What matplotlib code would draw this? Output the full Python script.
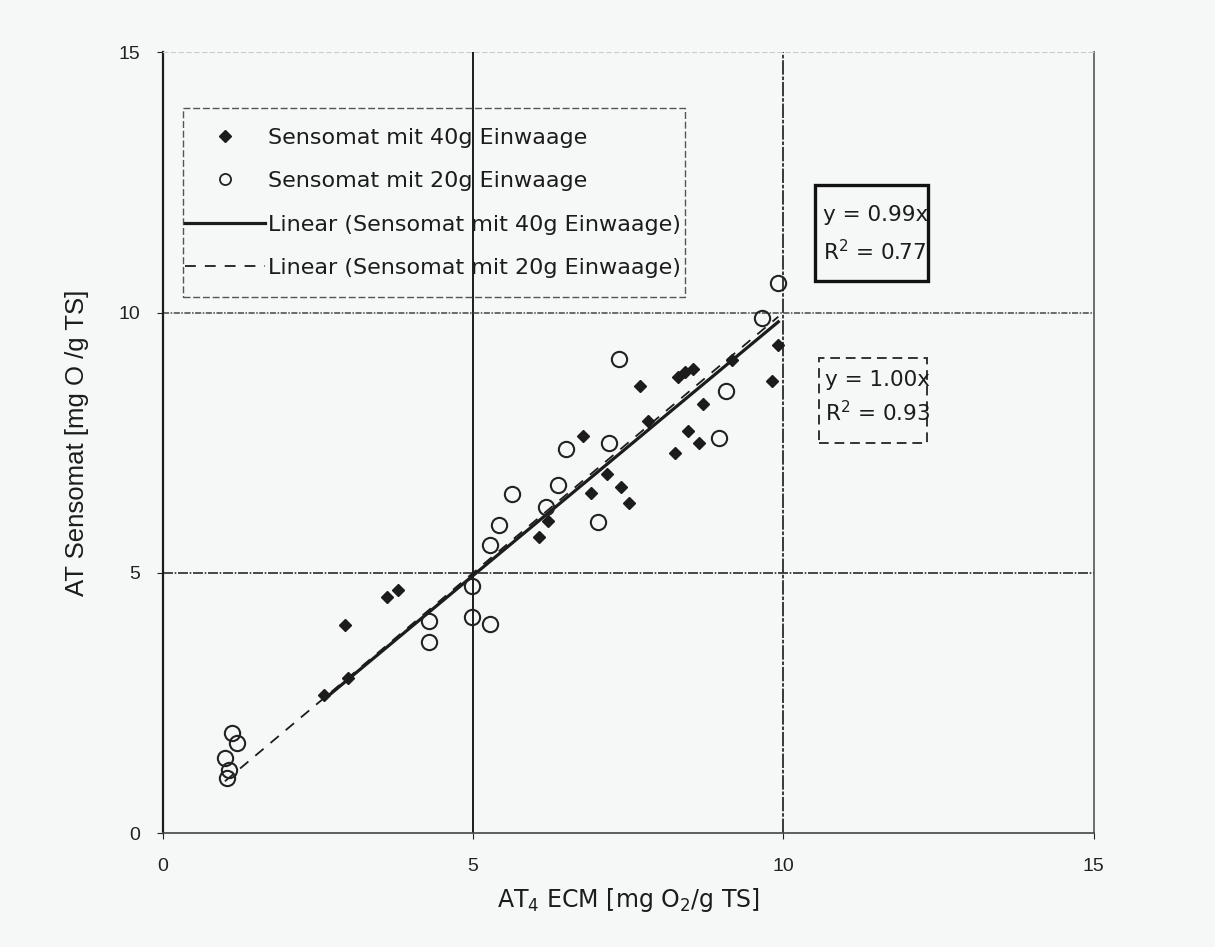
import matplotlib.pyplot as plt
from matplotlib.lines import Line2D
from matplotlib.patches import Rectangle

# Sensomat mit 40g Einwaage (filled diamonds)
x40 = [2.6, 2.99, 2.94, 3.61, 3.79, 6.07, 6.21, 6.77, 6.9, 7.16, 7.38, 7.51,
       7.69, 7.82, 8.25, 8.3, 8.41, 8.47, 8.54, 8.64, 8.7, 9.18, 9.82, 9.92]
y40 = [2.65, 2.98, 4.0, 4.54, 4.67, 5.69, 6.0, 7.62, 6.54, 6.9, 6.65, 6.35,
       8.58, 7.92, 7.31, 8.77, 8.85, 7.73, 8.92, 7.5, 8.25, 9.08, 8.69, 9.38]

# Sensomat mit 20g Einwaage (open circles)
x20 = [1.0, 1.04, 1.07, 1.12, 1.2, 4.29, 4.29, 4.99, 4.99, 5.28, 5.28, 5.42,
       5.62, 6.18, 6.37, 6.5, 7.01, 7.19, 7.35, 8.97, 9.07, 9.65, 9.92]
y20 = [1.44, 1.06, 1.21, 1.92, 1.73, 4.08, 3.67, 4.75, 4.15, 4.02, 5.54, 5.92,
       6.52, 6.27, 6.69, 7.37, 5.98, 7.5, 9.1, 7.6, 8.5, 9.9, 10.56]

slope40, r2_40 = 0.99, 0.77
slope20, r2_20 = 1.00, 0.93

plt.rcParams['font.family'] = ['Liberation Sans', 'DejaVu Sans']
wide = 'DejaVu Sans'
bg = '#f6f8f7'
ink = '#1c1c1c'
fig = plt.figure(figsize=(12.15, 9.47), dpi=100, facecolor=bg)
ax = fig.add_axes([0.134, 0.120, 0.766, 0.825], facecolor=bg)

# grid lines
ax.axvline(5, color=ink, lw=1.4, zorder=1)
ax.axvline(10, color='#2a2a2a', lw=1.3, ls=(0, (8, 1, 2, 1)), zorder=1)
ax.axhline(5, color='#2a2a2a', lw=1.2, ls=(0, (6, 1, 1, 1)), zorder=1)
ax.axhline(10, color='#444444', lw=1.1, ls=(0, (4, 1, 1, 1)), zorder=1)

# trend lines
xa = [min(x20), max(x20)]
ax.plot(xa, [slope20 * v for v in xa], color=ink, lw=1.3, ls=(0, (6, 5)), zorder=2)
xb = [min(x40), max(x40)]
ax.plot(xb, [slope40 * v for v in xb], color=ink, lw=2.3, zorder=3)

ax.plot(x40, y40, 'D', color=ink, ms=6, ls='none', zorder=4)
ax.plot(x20, y20, 'o', mfc='none', mec='#222222', mew=1.5, ms=11, ls='none', zorder=4)

ax.set_xlim(0, 15)
ax.set_ylim(0, 15)
ax.set_xticks([0, 5, 10, 15])
ax.set_yticks([0, 5, 10, 15])
ax.tick_params(labelsize=14, length=4, colors='#222222')
ax.tick_params(axis='x', pad=14)
ax.tick_params(axis='y', pad=12)

ax.spines['left'].set_color(ink)
ax.spines['left'].set_linewidth(1.6)
ax.spines['bottom'].set_color('#444444')
ax.spines['bottom'].set_linewidth(1.2)
ax.spines['bottom'].set_linestyle((0, (8, 1, 2, 1)))
ax.spines['right'].set_color('#555555')
ax.spines['right'].set_linewidth(1.2)
ax.spines['right'].set_linestyle((0, (1, 1)))
ax.spines['top'].set_color('#cccccc')
ax.spines['top'].set_linewidth(0.8)
ax.spines['top'].set_linestyle((0, (4, 3)))

ax.set_xlabel('AT$_4$ ECM [mg O$_2$/g TS]', fontsize=17, labelpad=8, color=ink, family=wide)
ax.set_ylabel('AT Sensomat [mg O /g TS]', fontsize=18.5, color=ink)
ax.yaxis.set_label_coords(-0.079, 0.5)

handles = [
    Line2D([], [], marker='D', color=ink, ms=6, ls='none'),
    Line2D([], [], marker='o', mfc='none', mec='#222222', mew=1.3, ms=8, ls='none'),
    Line2D([], [], color=ink, lw=2.3),
    Line2D([], [], color=ink, lw=1.3, ls=(0, (6, 5))),
]
labels = ['Sensomat mit 40g Einwaage', 'Sensomat mit 20g Einwaage',
          'Linear (Sensomat mit 40g Einwaage)', 'Linear (Sensomat mit 20g Einwaage)']
leg = ax.legend(handles, labels, loc='upper left', bbox_to_anchor=(0.0235, 0.903),
                prop={'family': wide, 'size': 16}, handlelength=3.6, handletextpad=0.15,
                labelspacing=1.05, borderpad=0, frameon=False, borderaxespad=0)
for t in leg.get_texts():
    t.set_color(ink)
ax.add_patch(Rectangle((0.0214, 0.686), 0.540, 0.243, transform=ax.transAxes,
                       fill=False, ec='#555555', lw=1.0, ls=(0, (5, 2)), zorder=5))

# equation boxes
ax.add_patch(Rectangle((10.51, 10.6), 1.83, 1.84, fc=bg, ec='#111111', lw=2.4, zorder=5))
ax.text(10.64, 11.87, f'y = {slope40:.2f}x', fontsize=15.5, va='center', color=ink,
        family=wide, zorder=6)
ax.text(10.64, 11.17, f'R$^2$ = {r2_40:.2f}', fontsize=15.5, va='center', color=ink,
        family=wide, zorder=6)
ax.add_patch(Rectangle((10.58, 7.5), 1.73, 1.63, fc=bg, ec='#333333', lw=1.4,
                       ls=(0, (5, 3)), zorder=5))
ax.text(10.67, 8.71, f'y = {slope20:.2f}x', fontsize=15.5, va='center', color=ink,
        family=wide, zorder=6)
ax.text(10.67, 8.08, f'R$^2$ = {r2_20:.2f}', fontsize=15.5, va='center', color=ink,
        family=wide, zorder=6)

fig.savefig('out.png', dpi=100, facecolor=bg)
